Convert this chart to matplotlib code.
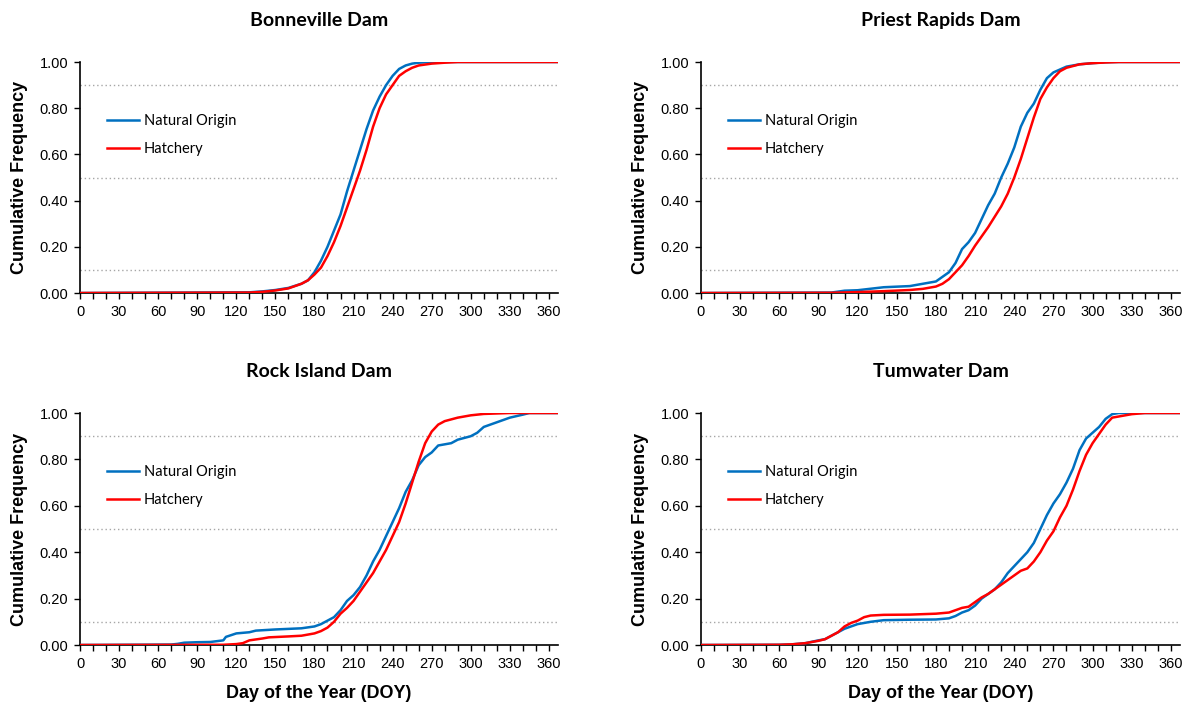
import matplotlib
matplotlib.use("Agg")
import matplotlib.pyplot as plt
from matplotlib.ticker import MultipleLocator, FormatStrFormatter

titles = ["Bonneville Dam", "Priest Rapids Dam", "Rock Island Dam", "Tumwater Dam"]
series_names = ["Natural Origin", "Hatchery"]

# Bonneville
bon_nat_x = [0, 130, 140, 150, 160, 170, 175, 180, 185, 190, 195, 200, 205, 210, 215, 220, 225, 230, 235, 240, 245, 250, 255, 260, 270, 367]
bon_nat_y = [0.0, 0.003, 0.007, 0.013, 0.022, 0.04, 0.055, 0.09, 0.14, 0.20, 0.27, 0.34, 0.44, 0.53, 0.62, 0.71, 0.79, 0.85, 0.90, 0.94, 0.97, 0.985, 0.993, 0.997, 1.0, 1.0]
bon_hat_x = [0, 130, 140, 150, 160, 170, 175, 180, 185, 190, 195, 200, 205, 210, 215, 220, 225, 230, 235, 240, 245, 250, 255, 260, 270, 280, 290, 367]
bon_hat_y = [0.0, 0.002, 0.005, 0.011, 0.02, 0.04, 0.055, 0.08, 0.11, 0.16, 0.22, 0.29, 0.37, 0.45, 0.53, 0.62, 0.72, 0.80, 0.86, 0.90, 0.94, 0.96, 0.975, 0.985, 0.993, 0.997, 1.0, 1.0]

# Priest Rapids
pri_nat_x = [0, 100, 110, 120, 140, 160, 170, 180, 185, 190, 195, 200, 205, 210, 215, 220, 225, 230, 235, 240, 245, 250, 255, 260, 265, 270, 280, 290, 300, 310, 320, 367]
pri_nat_y = [0.0, 0.002, 0.01, 0.012, 0.025, 0.03, 0.04, 0.05, 0.07, 0.09, 0.13, 0.19, 0.22, 0.26, 0.32, 0.38, 0.43, 0.50, 0.56, 0.63, 0.72, 0.78, 0.82, 0.88, 0.93, 0.955, 0.98, 0.99, 0.995, 0.999, 1.0, 1.0]
pri_hat_x = [0, 100, 120, 140, 160, 170, 180, 185, 190, 195, 200, 205, 210, 215, 220, 225, 230, 235, 240, 245, 250, 255, 260, 265, 270, 275, 280, 290, 300, 310, 320, 367]
pri_hat_y = [0.0, 0.001, 0.004, 0.008, 0.013, 0.018, 0.028, 0.04, 0.06, 0.09, 0.12, 0.16, 0.205, 0.245, 0.285, 0.33, 0.375, 0.43, 0.50, 0.58, 0.67, 0.76, 0.84, 0.89, 0.93, 0.96, 0.975, 0.99, 0.995, 0.998, 1.0, 1.0]

# Rock Island
roc_nat_x = [0, 70, 75, 80, 90, 100, 110, 112, 120, 130, 135, 150, 170, 180, 185, 190, 195, 200, 205, 210, 215, 220, 225, 230, 235, 240, 245, 250, 255, 260, 265, 270, 275, 280, 285, 290, 300, 305, 310, 320, 330, 340, 345, 367]
roc_nat_y = [0.0, 0.002, 0.005, 0.01, 0.012, 0.013, 0.02, 0.035, 0.05, 0.055, 0.062, 0.067, 0.072, 0.08, 0.09, 0.105, 0.12, 0.15, 0.19, 0.215, 0.25, 0.30, 0.36, 0.41, 0.47, 0.53, 0.59, 0.66, 0.71, 0.775, 0.81, 0.83, 0.86, 0.865, 0.87, 0.885, 0.90, 0.915, 0.94, 0.96, 0.98, 0.993, 1.0, 1.0]
roc_hat_x = [0, 110, 120, 125, 130, 140, 145, 160, 170, 180, 185, 190, 195, 200, 205, 210, 215, 220, 225, 230, 235, 240, 245, 250, 255, 260, 265, 270, 275, 280, 290, 300, 310, 320, 330, 367]
roc_hat_y = [0.0, 0.001, 0.004, 0.008, 0.02, 0.028, 0.033, 0.037, 0.04, 0.05, 0.06, 0.075, 0.10, 0.135, 0.16, 0.19, 0.23, 0.27, 0.31, 0.36, 0.41, 0.47, 0.53, 0.61, 0.70, 0.79, 0.87, 0.92, 0.95, 0.965, 0.98, 0.99, 0.996, 0.998, 1.0, 1.0]

# Tumwater
tum_nat_x = [0, 60, 70, 80, 90, 95, 100, 105, 110, 115, 120, 130, 140, 150, 160, 180, 190, 195, 200, 205, 210, 215, 220, 225, 230, 235, 240, 245, 250, 255, 260, 265, 270, 275, 280, 285, 290, 295, 300, 305, 310, 315, 320, 367]
tum_nat_y = [0.0, 0.001, 0.003, 0.008, 0.02, 0.025, 0.04, 0.055, 0.07, 0.08, 0.09, 0.10, 0.107, 0.108, 0.109, 0.11, 0.115, 0.125, 0.14, 0.15, 0.17, 0.20, 0.22, 0.24, 0.27, 0.31, 0.34, 0.37, 0.40, 0.44, 0.50, 0.56, 0.61, 0.65, 0.70, 0.76, 0.84, 0.89, 0.915, 0.94, 0.975, 0.995, 1.0, 1.0]
tum_hat_x = [0, 60, 70, 80, 90, 95, 100, 105, 110, 115, 120, 125, 130, 140, 160, 180, 190, 195, 200, 205, 210, 215, 220, 225, 230, 235, 240, 245, 250, 255, 260, 265, 270, 275, 280, 285, 290, 295, 300, 305, 310, 315, 320, 330, 340, 367]
tum_hat_y = [0.0, 0.001, 0.003, 0.008, 0.018, 0.025, 0.04, 0.055, 0.08, 0.095, 0.105, 0.12, 0.127, 0.13, 0.131, 0.135, 0.14, 0.15, 0.16, 0.165, 0.185, 0.205, 0.22, 0.24, 0.26, 0.28, 0.30, 0.32, 0.33, 0.36, 0.40, 0.45, 0.49, 0.55, 0.60, 0.67, 0.75, 0.82, 0.87, 0.91, 0.95, 0.98, 0.985, 0.995, 1.0, 1.0]

panels = [
    (bon_nat_x, bon_nat_y, bon_hat_x, bon_hat_y),
    (pri_nat_x, pri_nat_y, pri_hat_x, pri_hat_y),
    (roc_nat_x, roc_nat_y, roc_hat_x, roc_hat_y),
    (tum_nat_x, tum_nat_y, tum_hat_x, tum_hat_y),
]
ref_levels = [0.1, 0.5, 0.9]
x_ticks = list(range(0, 361, 30))

BLUE = "#0070C0"
RED = "#FF0000"

fig = plt.figure(figsize=(11.86, 7.03), dpi=100)
positions = [
    [0.0675, 0.5832, 0.403, 0.3286],
    [0.591, 0.5832, 0.404, 0.3286],
    [0.0675, 0.0825, 0.403, 0.33],
    [0.591, 0.0825, 0.404, 0.33],
]

for i, (pos, title, data) in enumerate(zip(positions, titles, panels)):
    ax = fig.add_axes(pos)
    nx, ny, hx, hy = data
    for lvl in ref_levels:
        ax.axhline(lvl, color="#A6A6A6", lw=1.0, ls=(0, (1, 2)), zorder=1)
    ax.plot(nx, ny, color=BLUE, lw=1.8, label=series_names[0], zorder=3)
    ax.plot(hx, hy, color=RED, lw=1.8, label=series_names[1], zorder=3)
    ax.set_xlim(0, 367)
    ax.set_ylim(0, 1.0)
    ax.set_xticks(x_ticks)
    ax.xaxis.set_minor_locator(MultipleLocator(10))
    ax.yaxis.set_major_locator(MultipleLocator(0.2))
    ax.yaxis.set_major_formatter(FormatStrFormatter("%.2f"))
    ax.tick_params(axis="both", which="both", direction="out", length=4.5, width=1, color="black",
                   labelsize=10.5)
    ax.tick_params(axis="y", pad=4)
    ax.tick_params(axis="x", which="both", pad=4)
    for lab in ax.get_xticklabels() + ax.get_yticklabels():
        lab.set_fontfamily("Liberation Sans")
    for s in ["top", "right"]:
        ax.spines[s].set_visible(False)
    for s in ["left", "bottom"]:
        ax.spines[s].set_linewidth(1.2)
    ax.set_title(title, fontfamily="Lato", fontweight="bold", fontsize=14, pad=26)
    ax.set_ylabel("Cumulative Frequency", fontfamily="Liberation Sans", fontweight="bold", fontsize=13, labelpad=8)
    if i >= 2:
        ax.set_xlabel("Day of the Year (DOY)", fontfamily="Liberation Sans", fontweight="bold", fontsize=13, labelpad=10)
    ax.legend(loc="upper left", bbox_to_anchor=(0.045, 0.80), frameon=False,
              prop={"family": "Lato", "size": 10.5}, handlelength=2.2, handletextpad=0.3,
              labelspacing=0.95, borderaxespad=0)

fig.savefig("out.png", dpi=100)
